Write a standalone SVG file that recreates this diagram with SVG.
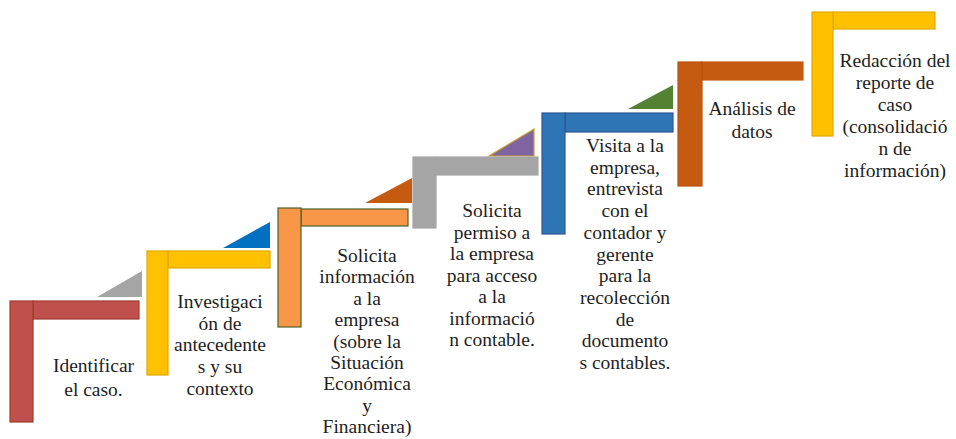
<svg xmlns="http://www.w3.org/2000/svg" width="956" height="439" viewBox="0 0 956 439">
<style>
  .u { font-size: 19.5px; fill: #1e1e1e; text-anchor: middle; }
  .b { stroke-width: 1.2; }
</style>
<rect width="956" height="439" fill="#ffffff"/>
<g id="connectors">
  <polygon points="97,297 142,297 142,271" fill="#A5A5A5"/>
  <polygon points="223,248 270,248 270,222" fill="#0070C0"/>
  <polygon points="365,203 412,203 412,178" fill="#C55A11"/>
  <polygon points="489,156 534,156 534,129" fill="#8064A2" stroke="#C9A227" stroke-width="1.2"/>
  <polygon points="628,109 673,109 673,85" fill="#548235"/>
</g>
<g id="step1">
  <rect class="b" x="33" y="301" width="106" height="18" fill="#C0504D" stroke="#9E3B2E"/>
  <rect class="b" x="10" y="301" width="23" height="121" fill="#C0504D" stroke="#9E3B2E"/>
  <text class="u" font-family="Liberation Serif" x="93.5" y="372">Identificar</text>
  <text class="u" font-family="Liberation Serif" x="93.5" y="396">el caso.</text>
</g>
<g id="step2">
  <rect class="b" x="168" y="251" width="102" height="17" fill="#FFC000" stroke="#E0A800"/>
  <rect class="b" x="147" y="251" width="21" height="124" fill="#FFC000" stroke="#E0A800"/>
  <text class="u" font-family="Liberation Serif" x="220" y="308">Investigaci</text>
  <text class="u" font-family="Liberation Serif" x="220" y="330">ón de</text>
  <text class="u" font-family="Liberation Serif" x="220" y="351">antecedente</text>
  <text class="u" font-family="Liberation Serif" x="220" y="373">s y su</text>
  <text class="u" font-family="Liberation Serif" x="220" y="395">contexto</text>
</g>
<g id="step3">
  <rect class="b" x="301" y="209" width="107" height="17" fill="#F79646" stroke="#4F6228"/>
  <rect class="b" x="278" y="208" width="23" height="119" fill="#F79646" stroke="#4F6228"/>
  <text class="u" font-family="Liberation Serif" x="367" y="262">Solicita</text>
  <text class="u" font-family="Liberation Serif" x="367" y="283.4">información</text>
  <text class="u" font-family="Liberation Serif" x="367" y="304.8">a la</text>
  <text class="u" font-family="Liberation Serif" x="367" y="326.2">empresa</text>
  <text class="u" font-family="Liberation Serif" x="367" y="347.6">(sobre la</text>
  <text class="u" font-family="Liberation Serif" x="367" y="369">Situación</text>
  <text class="u" font-family="Liberation Serif" x="367" y="390.4">Económica</text>
  <text class="u" font-family="Liberation Serif" x="367" y="411.8">y</text>
  <text class="u" font-family="Liberation Serif" x="367" y="433.2">Financiera)</text>
</g>
<g id="step4">
  <rect class="b" x="436" y="157" width="102" height="18" fill="#A5A5A5" stroke="#A5A5A5"/>
  <rect class="b" x="413" y="157" width="23" height="71" fill="#A5A5A5" stroke="#A5A5A5"/>
  <text class="u" font-family="Liberation Serif" x="492" y="217">Solicita</text>
  <text class="u" font-family="Liberation Serif" x="492" y="238.5">permiso a</text>
  <text class="u" font-family="Liberation Serif" x="492" y="260">la empresa</text>
  <text class="u" font-family="Liberation Serif" x="492" y="281.5">para acceso</text>
  <text class="u" font-family="Liberation Serif" x="492" y="303">a la</text>
  <text class="u" font-family="Liberation Serif" x="492" y="324.5">informació</text>
  <text class="u" font-family="Liberation Serif" x="492" y="346">n contable.</text>
</g>
<g id="step5">
  <rect class="b" x="565" y="113" width="108" height="19" fill="#2E75B6" stroke="#2F5597"/>
  <rect class="b" x="542" y="113" width="23" height="121" fill="#2E75B6" stroke="#2F5597"/>
  <text class="u" font-family="Liberation Serif" x="625" y="152">Visita a la</text>
  <text class="u" font-family="Liberation Serif" x="625" y="173.7">empresa,</text>
  <text class="u" font-family="Liberation Serif" x="625" y="195.4">entrevista</text>
  <text class="u" font-family="Liberation Serif" x="625" y="217.1">con el</text>
  <text class="u" font-family="Liberation Serif" x="625" y="238.8">contador y</text>
  <text class="u" font-family="Liberation Serif" x="625" y="260.5">gerente</text>
  <text class="u" font-family="Liberation Serif" x="625" y="282.2">para la</text>
  <text class="u" font-family="Liberation Serif" x="625" y="303.9">recolección</text>
  <text class="u" font-family="Liberation Serif" x="625" y="325.6">de</text>
  <text class="u" font-family="Liberation Serif" x="625" y="347.3">documento</text>
  <text class="u" font-family="Liberation Serif" x="625" y="369">s contables.</text>
</g>
<g id="step6">
  <rect class="b" x="702" y="62" width="101" height="18" fill="#C55A11" stroke="#C55A11"/>
  <rect class="b" x="678" y="62" width="24" height="124" fill="#C55A11" stroke="#B85210"/>
  <text class="u" font-family="Liberation Serif" x="752" y="115">Análisis de</text>
  <text class="u" font-family="Liberation Serif" x="752" y="138">datos</text>
</g>
<g id="step7">
  <rect class="b" x="833" y="12" width="102" height="17" fill="#FFC000" stroke="#E0A800"/>
  <rect class="b" x="812" y="12" width="21" height="124" fill="#FFC000" stroke="#E0A800"/>
  <text class="u" font-family="Liberation Serif" x="895" y="67">Redacción del</text>
  <text class="u" font-family="Liberation Serif" x="895" y="89">reporte de</text>
  <text class="u" font-family="Liberation Serif" x="895" y="111">caso</text>
  <text class="u" font-family="Liberation Serif" x="895" y="133">(consolidació</text>
  <text class="u" font-family="Liberation Serif" x="895" y="155">n de</text>
  <text class="u" font-family="Liberation Serif" x="895" y="177">información)</text>
</g>
</svg>
